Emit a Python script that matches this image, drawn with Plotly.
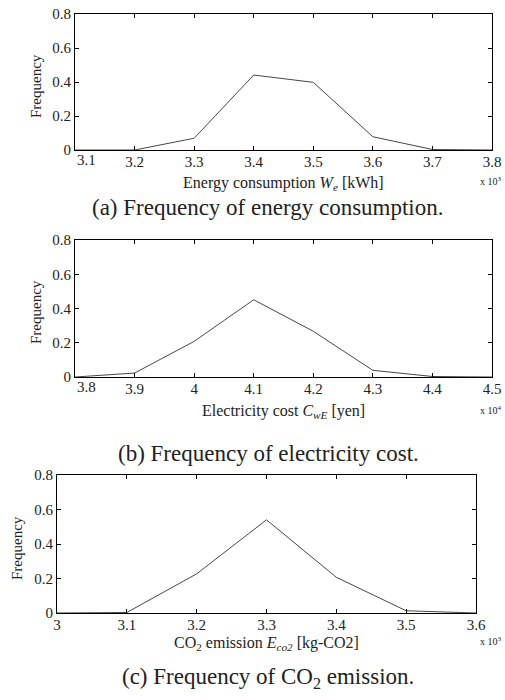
import plotly.graph_objects as go

W = 505
H = 700

# ---- data ----
energy_x = [3100, 3200, 3300, 3400, 3500, 3600, 3700, 3800]
energy_freq = [0.0, 0.0, 0.069, 0.441, 0.398, 0.078, 0.003, 0.0]
energy_ticks = ["3.1", "3.2", "3.3", "3.4", "3.5", "3.6", "3.7", "3.8"]

cost_x = [38000, 39000, 40000, 41000, 42000, 43000, 44000, 45000]
cost_freq = [0.0, 0.023, 0.208, 0.451, 0.267, 0.039, 0.003, 0.0]
cost_ticks = ["3.8", "3.9", "4", "4.1", "4.2", "4.3", "4.4", "4.5"]

co2_x = [3000, 3100, 3200, 3300, 3400, 3500, 3600]
co2_freq = [0.0, 0.003, 0.227, 0.540, 0.207, 0.013, 0.0]
co2_ticks = ["3", "3.1", "3.2", "3.3", "3.4", "3.5", "3.6"]

y_ticks = [0, 0.2, 0.4, 0.6, 0.8]
y_ticklabels = ["0", "0.2", "0.4", "0.6", "0.8"]


def px(xp):
    return xp / W


def py(yp):
    return 1 - yp / H


panels = [
    dict(x=energy_x, y=energy_freq, ticks=energy_ticks, shift_first=True,
         left=75, right=492, top=14, bottom=150,
         xtitle="Energy consumption <i>W</i><sub><i>e</i></sub> [kWh]", xtitle_y=183,
         mult="x 10<sup>3</sup>", ylab_x=36, ylab_y=86,
         caption="(a) Frequency of energy consumption.", cap_y=207),
    dict(x=cost_x, y=cost_freq, ticks=cost_ticks, shift_first=True,
         left=75, right=492, top=240, bottom=377,
         xtitle="Electricity cost <i>C</i><sub><i>wE</i></sub> [yen]", xtitle_y=412,
         mult="x 10<sup>4</sup>", ylab_x=36, ylab_y=312,
         caption="(b) Frequency of electricity cost.", cap_y=453),
    dict(x=co2_x, y=co2_freq, ticks=co2_ticks, shift_first=False,
         left=57, right=476, top=475, bottom=613,
         xtitle="CO<sub>2</sub> emission <i>E</i><sub><i>co2</i></sub> [kg-CO2]", xtitle_y=643,
         mult="x 10<sup>3</sup>", ylab_x=17, ylab_y=548,
         caption="(c) Frequency of CO<sub>2</sub> emission.", cap_y=678),
]

FONT = "Liberation Serif, Times New Roman, serif"
TXT = "#222222"
fig = go.Figure()
annotations = []

for i, p in enumerate(panels):
    n = "" if i == 0 else str(i + 1)
    fig.add_trace(go.Scatter(
        x=p["x"], y=p["y"], mode="lines",
        line=dict(color="#474747", width=1),
        xaxis="x" + n, yaxis="y" + n, showlegend=False,
        hoverinfo="x+y",
    ))
    ticktext = list(p["ticks"])
    if p["shift_first"]:
        # first label is drawn a little to the right of its tick (as in the original)
        ticktext[0] = ""
        annotations.append(dict(
            text=p["ticks"][0], x=p["x"][0], xref="x" + n,
            y=py(p["bottom"] + 10), yref="paper", showarrow=False,
            xanchor="left", yanchor="middle",
            font=dict(family=FONT, size=15, color=TXT),
        ))
    fig.layout["xaxis" + n] = dict(
        domain=[px(p["left"]), px(p["right"])], anchor="y" + n, automargin=False,
        range=[p["x"][0], p["x"][-1]],
        tickvals=p["x"], ticktext=ticktext,
        ticks="inside", ticklen=4, tickcolor="black",
        showline=True, linecolor="black", linewidth=1, mirror="allticks",
        showgrid=False, zeroline=False,
        tickfont=dict(family=FONT, size=15, color=TXT),
        ticklabelstandoff=-2,
        fixedrange=True,
    )
    fig.layout["yaxis" + n] = dict(
        domain=[py(p["bottom"]), py(p["top"])], anchor="x" + n, automargin=False,
        range=[0, 0.8],
        tickvals=y_ticks, ticktext=y_ticklabels,
        ticks="inside", ticklen=4, tickcolor="black",
        showline=True, linecolor="black", linewidth=1, mirror="allticks",
        showgrid=False, zeroline=False,
        tickfont=dict(family=FONT, size=15, color=TXT),
        fixedrange=True,
    )
    cx = px((p["left"] + p["right"]) / 2)
    annotations.append(dict(
        text=p["xtitle"], x=cx, y=py(p["xtitle_y"]),
        xref="paper", yref="paper", showarrow=False,
        xanchor="center", yanchor="middle",
        font=dict(family=FONT, size=16, color=TXT),
    ))
    annotations.append(dict(
        text=p["mult"], x=px(504), y=py(p["xtitle_y"] - 2),
        xref="paper", yref="paper", showarrow=False,
        xanchor="right", yanchor="middle",
        font=dict(family=FONT, size=10, color=TXT),
    ))
    annotations.append(dict(
        text="Frequency", x=px(p["ylab_x"]), y=py(p["ylab_y"]),
        xref="paper", yref="paper", showarrow=False, textangle=-90,
        xanchor="center", yanchor="middle",
        font=dict(family=FONT, size=15, color=TXT),
    ))
    annotations.append(dict(
        text=p["caption"], x=px(268), y=py(p["cap_y"]),
        xref="paper", yref="paper", showarrow=False,
        xanchor="center", yanchor="middle",
        font=dict(family=FONT, size=23, color=TXT),
    ))

fig.update_layout(
    width=W, height=H,
    margin=dict(l=0, r=0, t=0, b=0, autoexpand=False),
    paper_bgcolor="white", plot_bgcolor="white",
    annotations=annotations,
    font=dict(family=FONT),
)

fig.write_html(
    "out.html",
    config={"displayModeBar": False},
    post_script="document.body.style.margin='0';document.body.style.overflow='hidden';",
)
